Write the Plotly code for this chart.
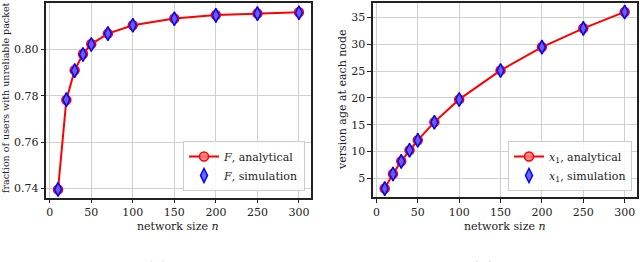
import plotly.graph_objects as go

n_vals = [10, 20, 30, 40, 50, 70, 100, 150, 200, 250, 300]
F_analytical = [0.7396, 0.7782, 0.7910, 0.7980, 0.8023, 0.8068, 0.8104, 0.8133, 0.8148, 0.8155, 0.8160]
F_simulation = [0.7396, 0.7783, 0.7908, 0.7978, 0.8021, 0.8068, 0.8104, 0.8132, 0.8147, 0.8154, 0.8158]
x1_analytical = [3.14, 5.86, 8.22, 10.27, 12.13, 15.49, 19.72, 25.12, 29.46, 32.95, 36.0]
x1_simulation = [3.12, 5.84, 8.20, 10.25, 12.12, 15.47, 19.70, 25.10, 29.45, 32.93, 35.98]
x_ticks = [0, 50, 100, 150, 200, 250, 300]
y_ticks_a = [0.74, 0.76, 0.78, 0.80]
y_ticks_b = [5, 10, 15, 20, 25, 30, 35]

FONT = "DejaVu Serif"
W, H = 640, 262
fig = go.Figure()

red = "#ff0000"
blue = "#0000ff"

def add_pair(ya, ys, name_a, name_s, xaxis, yaxis, legend):
    fig.add_trace(go.Scatter(
        x=n_vals, y=ya, mode="lines+markers", name=name_a,
        line=dict(color=red, width=2),
        marker=dict(symbol="circle", size=9, color="rgba(255,120,120,0.85)",
                    line=dict(color=red, width=1.5)),
        xaxis=xaxis, yaxis=yaxis, legend=legend))
    fig.add_trace(go.Scatter(
        x=n_vals, y=ys, mode="markers", name=name_s,
        marker=dict(symbol="diamond-tall", size=10, color="rgba(90,90,255,0.9)",
                    line=dict(color=blue, width=1.5)),
        xaxis=xaxis, yaxis=yaxis, legend=legend))

add_pair(F_analytical, F_simulation,
         "<i>F</i>, analytical", "<i>F</i>, simulation", "x", "y", "legend")
add_pair(x1_analytical, x1_simulation,
         "<i>x</i><sub>1</sub>, analytical", "<i>x</i><sub>1</sub>, simulation", "x2", "y2", "legend2")

axis_common = dict(
    showgrid=True, gridcolor="#d0d0d0", gridwidth=1,
    showline=True, linecolor="#222222", linewidth=1.5, mirror=True,
    ticks="outside", ticklen=3.5, tickcolor="#222222", tickwidth=1,
    zeroline=False, tickfont=dict(family=FONT, size=11, color="#222222"),
)

fig.update_layout(
    width=W, height=H,
    margin=dict(l=0, r=0, t=0, b=0),
    paper_bgcolor="white", plot_bgcolor="white",
    font=dict(family=FONT, size=11, color="#222222"),
    showlegend=True,
    xaxis=dict(domain=[46/W, 311/W], range=[-4.5, 314.5], tickvals=x_ticks, anchor="y", **axis_common),
    yaxis=dict(domain=[1-198/H, 1-3/H], range=[0.7359, 0.8200], tickvals=y_ticks_a,
               tickformat=".2f", anchor="x", **axis_common),
    xaxis2=dict(domain=[372.7/W, 636.7/W], range=[-4.5, 314.5], tickvals=x_ticks, anchor="y2", **axis_common),
    yaxis2=dict(domain=[1-197.3/H, 1-3/H], range=[1.5, 37.66], tickvals=y_ticks_b, anchor="x2", **axis_common),
    legend=dict(x=305/W, y=1-191/H, xanchor="right", yanchor="bottom",
                bgcolor="rgba(255,255,255,0.85)", bordercolor="#cccccc", borderwidth=1,
                font=dict(family=FONT, size=11), tracegroupgap=0, itemwidth=30),
    legend2=dict(x=632/W, y=1-191/H, xanchor="right", yanchor="bottom",
                 bgcolor="rgba(255,255,255,0.85)", bordercolor="#cccccc", borderwidth=1,
                 font=dict(family=FONT, size=11), tracegroupgap=0, itemwidth=30),
)

annos = [
    dict(text="network size <i>n</i>", x=178/W, y=1-226/H, size=11),
    dict(text="network size <i>n</i>", x=505/W, y=1-226/H, size=11),
    dict(text="fraction of users with unreliable packet", x=5/W, y=1-98/H, textangle=-90, size=9.5),
    dict(text="version age at each node", x=343/W, y=1-100/H, textangle=-90, size=11),
    dict(text="(a)", x=157/W, y=1-268/H, size=15),
    dict(text="<b>(b)</b>", x=483/W, y=1-268/H, size=15),
]
for a in annos:
    size = a.pop("size")
    fig.add_annotation(xref="paper", yref="paper", showarrow=False,
                       xanchor="center", yanchor="middle",
                       font=dict(family=FONT, color="#222222", size=size), **a)

fig.write_html("out.html", config={"displayModeBar": False},
               post_script="document.body.style.margin='0';document.body.style.overflow='hidden';")
